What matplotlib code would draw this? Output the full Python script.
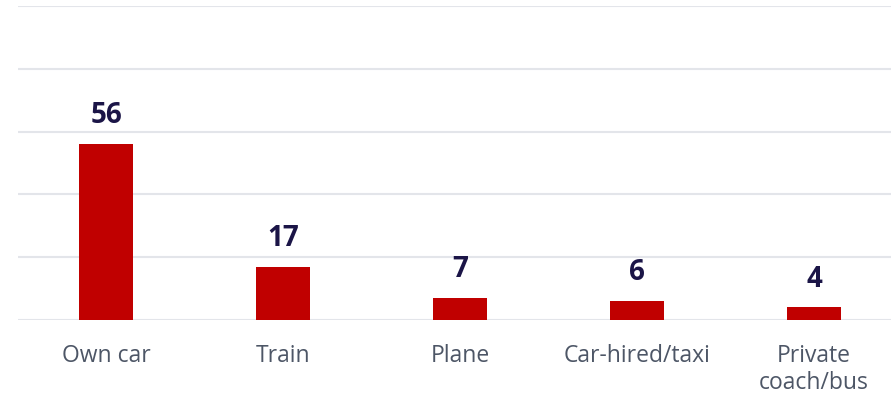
import numpy as np
import matplotlib.pyplot as plt

# data
categories = ['Own car', 'Train', 'Plane', 'Car-hired/taxi', 'Private\ncoach/bus']
values = [56, 17, 7, 6, 4]

plt.rcParams['font.family'] = ['Open Sans', 'DejaVu Sans']

fig = plt.figure(figsize=(8.91, 4), dpi=100)
ax = fig.add_axes([17.5/891, 80/400, 885/891, 314/400])

x = np.arange(len(categories))
bars = ax.bar(x, values, width=0.31, color='#C00000', zorder=3)

for xi, v in zip(x, values):
    ax.annotate(str(v), (xi, v), xytext=(0, 10), textcoords='offset points',
                ha='center', va='bottom', fontsize=20, fontweight='bold',
                color='#1B1547')

ax.set_ylim(0, 100)
ax.set_xlim(-0.5, len(categories) - 0.5)
ax.set_yticks(np.arange(0, 101, 20))
ax.set_yticklabels([])
ax.grid(axis='y', color='#E3E5EA', linewidth=1.5, zorder=0)
ax.tick_params(axis='both', length=0)
ax.tick_params(axis='x', pad=17)
ax.set_xticks(x)
ax.set_xticklabels(categories, fontsize=16.5, color='#4D5666', va='top', linespacing=1.2)
for s in ax.spines.values():
    s.set_visible(False)

plt.savefig('out.png', dpi=100)
